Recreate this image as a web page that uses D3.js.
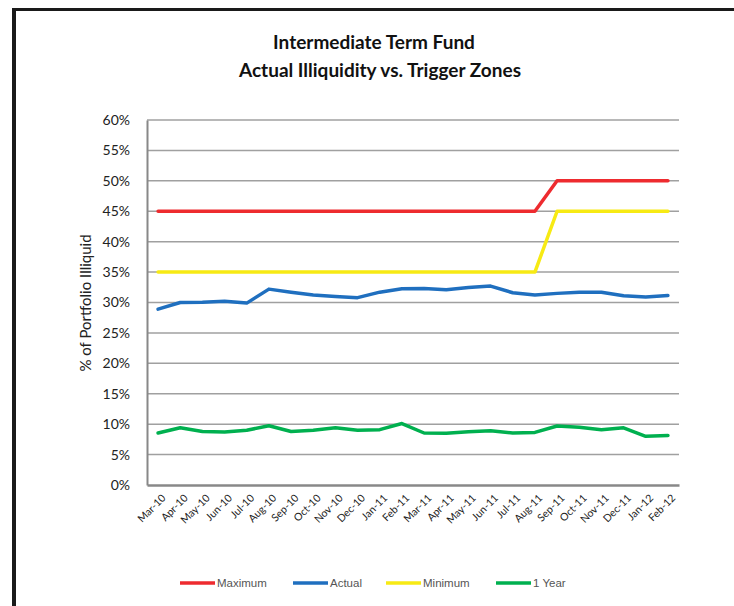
<!doctype html>
<html lang="en">
<head>
<meta charset="utf-8" />
<title>Intermediate Term Fund - Actual Illiquidity vs. Trigger Zones</title>
<script src="https://cdn.jsdelivr.net/npm/d3@7"></script>
<style>
	html, body { margin: 0; padding: 0; background: #fff; }
	svg { display: block; }
</style>
</head>
<body>
<div id="chart"></div>
<script>
	// months along the x axis
	const months = ["Mar-10", "Apr-10", "May-10", "Jun-10", "Jul-10", "Aug-10", "Sep-10", "Oct-10", "Nov-10", "Dec-10", "Jan-11", "Feb-11",
		"Mar-11", "Apr-11", "May-11", "Jun-11", "Jul-11", "Aug-11", "Sep-11", "Oct-11", "Nov-11", "Dec-11", "Jan-12", "Feb-12"];
	// values in percent
	const maximum = [45, 45, 45, 45, 45, 45, 45, 45, 45, 45, 45, 45, 45, 45, 45, 45, 45, 45, 50, 50, 50, 50, 50, 50];
	const actual = [28.9, 30.0, 30.05, 30.2, 29.9, 32.2, 31.7, 31.25, 31.0, 30.8, 31.7, 32.25, 32.3, 32.1, 32.45, 32.7, 31.6, 31.25, 31.5, 31.7, 31.7, 31.1, 30.9, 31.15];
	const minimum = [35, 35, 35, 35, 35, 35, 35, 35, 35, 35, 35, 35, 35, 35, 35, 35, 35, 35, 45, 45, 45, 45, 45, 45];
	const oneYear = [8.55, 9.4, 8.8, 8.7, 9.0, 9.75, 8.8, 9.0, 9.4, 9.0, 9.1, 10.1, 8.55, 8.5, 8.75, 8.9, 8.55, 8.65, 9.7, 9.5, 9.1, 9.4, 8.0, 8.15];
	const yTicks = [0, 5, 10, 15, 20, 25, 30, 35, 40, 45, 50, 55, 60];

	const series = [
		{ name: "Maximum", values: maximum, color: "#EE2B2F" },
		{ name: "Actual", values: actual, color: "#1F6FBF" },
		{ name: "Minimum", values: minimum, color: "#F7EA14" },
		{ name: "1 Year", values: oneYear, color: "#00B04F" },
	];

	const W = 734, H = 606;
	const PLOT = { LEFT: 147, RIGHT: 679, TOP: 120, BOTTOM: 485 };

	const svg = d3.select("#chart").append("svg").attr("width", W).attr("height", H);

	// frame (top and left black border)
	svg.append("rect").attr("x", 12).attr("y", 8).attr("width", W - 12).attr("height", 3).attr("fill", "#1a1a1a");
	svg.append("rect").attr("x", 12).attr("y", 8).attr("width", 4).attr("height", H - 8).attr("fill", "#1a1a1a");

	// title
	const title = svg.append("text")
		.attr("text-anchor", "middle")
		.attr("font-family", "Lato, 'Open Sans', sans-serif")
		.attr("font-weight", "bold")
		.attr("font-size", 19)
		.attr("fill", "#111");
	title.append("tspan").attr("x", 374).attr("y", 49).text("Intermediate Term Fund");
	title.append("tspan").attr("x", 380).attr("y", 77).text("Actual Illiquidity vs. Trigger Zones");

	const x = d3.scalePoint().domain(months).range([PLOT.LEFT, PLOT.RIGHT]).padding(0.5);
	const y = d3.scaleLinear().domain([0, 60]).range([PLOT.BOTTOM, PLOT.TOP]);

	// gridlines
	svg.append("g")
		.selectAll("line")
		.data(yTicks.filter((d) => d > 0))
		.join("line")
		.attr("x1", PLOT.LEFT)
		.attr("x2", PLOT.RIGHT)
		.attr("y1", (d) => y(d))
		.attr("y2", (d) => y(d))
		.attr("stroke", "#a0a0a0")
		.attr("stroke-width", 1.5);

	// y axis
	const yAxis = svg.append("g")
		.attr("transform", `translate(${PLOT.LEFT},0)`)
		.call(d3.axisLeft(y).tickValues(yTicks).tickFormat((d) => d + "%").tickSize(0).tickPadding(17));
	yAxis.select(".domain").attr("stroke", "#888").attr("stroke-width", 2);
	yAxis.selectAll("text").attr("font-family", "Lato, 'Open Sans', sans-serif").attr("font-size", 14).attr("fill", "#222");

	// x axis
	const xAxis = svg.append("g")
		.attr("transform", `translate(0,${PLOT.BOTTOM})`)
		.call(d3.axisBottom(x).tickSize(0).tickSizeOuter(0));
	xAxis.select(".domain").attr("stroke", "#888").attr("stroke-width", 2.5);
	xAxis.selectAll("text")
		.attr("font-family", "Lato, 'Open Sans', sans-serif")
		.attr("font-size", 10.5)
		.attr("fill", "#222")
		.attr("text-anchor", "end")
		.attr("dy", "0.35em")
		.attr("transform", "translate(3,9) rotate(-45)");

	// axis title
	svg.append("text")
		.attr("transform", "translate(91,303) rotate(-90)")
		.attr("text-anchor", "middle")
		.attr("font-family", "Lato, 'Open Sans', sans-serif")
		.attr("font-size", 15)
		.attr("fill", "#222")
		.text("% of Portfolio Illiquid");

	// lines
	const line = d3.line().x((d, i) => x(months[i])).y((d) => y(d));
	svg.append("g")
		.selectAll("path")
		.data(series)
		.join("path")
		.attr("d", (s) => line(s.values))
		.attr("fill", "none")
		.attr("stroke", (s) => s.color)
		.attr("stroke-width", 3.5)
		.attr("stroke-linejoin", "round")
		.attr("stroke-linecap", "round");

	// legend
	const legendX = [180, 293, 386, 496];
	const legend = svg.append("g")
		.selectAll("g")
		.data(series)
		.join("g")
		.attr("transform", (d, i) => `translate(${legendX[i]},583)`);
	legend.append("line").attr("x1", 0).attr("x2", 35).attr("stroke", (d) => d.color).attr("stroke-width", 3.5);
	legend.append("text")
		.attr("x", 37)
		.attr("dy", "0.35em")
		.attr("font-family", "'Liberation Sans', Arial, sans-serif")
		.attr("font-size", 11.5)
		.attr("fill", "#555")
		.text((d) => d.name);
</script>
</body>
</html>
